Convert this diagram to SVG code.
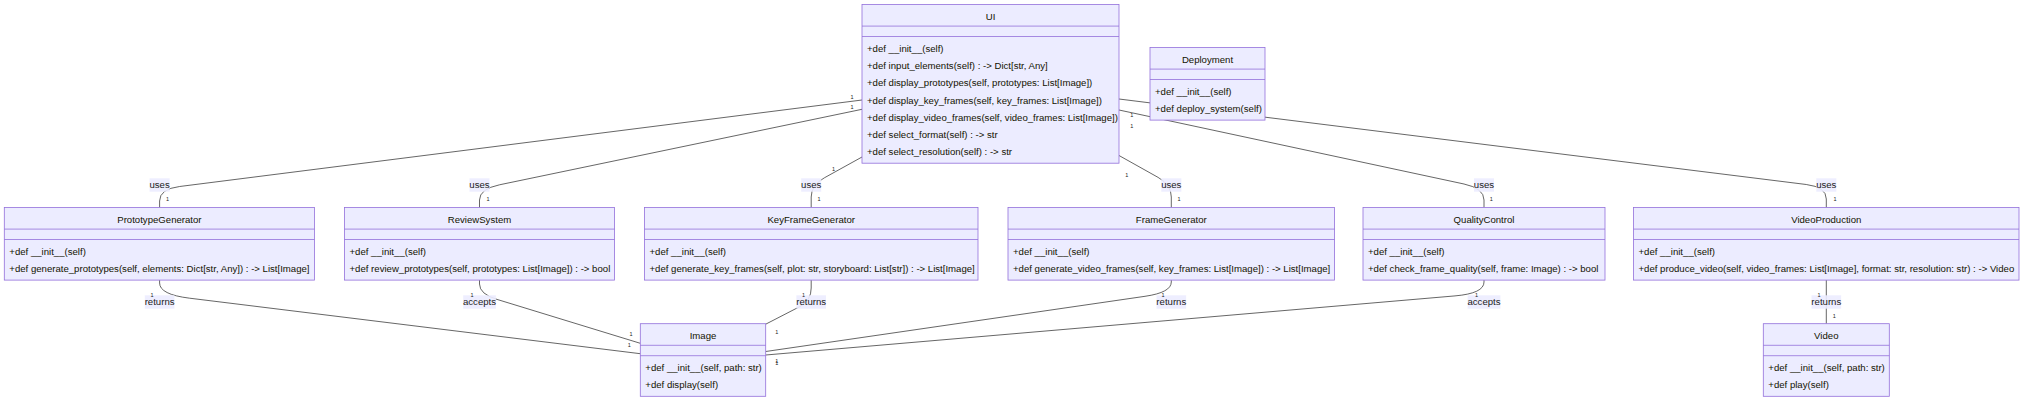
<svg xmlns="http://www.w3.org/2000/svg" width="2032" height="403" viewBox="0 0 2032 403">
<style>
.box{fill:#ececff;stroke:#9370db;stroke-width:0.8}
.div{stroke:#9370db;stroke-width:0.8}
.t{font-family:"Liberation Sans",Arial,sans-serif;font-size:9.6px;fill:#131300}
.ttl{text-anchor:middle}
.edge{fill:none;stroke:#333;stroke-width:0.75}
.lbg{fill:#ececff;opacity:0.9}
.lt{font-family:"Liberation Sans",Arial,sans-serif;font-size:9.6px;fill:#222;text-anchor:middle}
.card{font-family:"Liberation Sans",Arial,sans-serif;font-size:5.5px;fill:#222;text-anchor:middle}
</style>
<rect width="2032" height="403" fill="#ffffff"/>
<g id="connectors">
<path class="edge" d="M 862 100 L 179.6 186.5 Q 159.6 189 159.6 201 L 159.6 207.5"/>
<path class="edge" d="M 862 109.3 L 499.5 184.8 Q 479.5 189 479.5 200 L 479.5 207.5"/>
<path class="edge" d="M 862 157 L 824.4 177.8 Q 811.2 185 811.2 197 L 811.2 207.5"/>
<path class="edge" d="M 1119 155.5 L 1158.1 177.4 Q 1171.3 184.8 1171.3 197 L 1171.3 207.5"/>
<path class="edge" d="M 1119 110 L 1464 184 Q 1484 188.3 1484 200 L 1484 207.5"/>
<path class="edge" d="M 1119 99 L 1806.3 184.5 Q 1826.3 187 1826.3 199 L 1826.3 207.5"/>
<path class="edge" d="M 159.6 280.1 L 159.6 283 Q 159.6 294.5 189.6 298.2 L 640.3 353.7"/>
<path class="edge" d="M 479.5 280.1 L 479.5 284 Q 479.5 294.1 497 299.4 L 640.3 343.3"/>
<path class="edge" d="M 811.2 280.1 L 811.2 288 Q 811.2 300.5 800 306.5 L 765.7 324.2"/>
<path class="edge" d="M 1171.3 280.1 L 1171.3 282 Q 1171.3 292.5 1145 296.3 L 765.7 351.5"/>
<path class="edge" d="M 1484 280.1 L 1484 282 Q 1484 293.4 1455 295.9 L 765.7 355"/>
<path class="edge" d="M 1826.3 280.1 L 1826.3 323.7"/>
<g id="edge-labels">
<rect class="lbg" x="149.6" y="178.3" width="20" height="13.4"/><text class="lt" x="159.6" y="188.4">uses</text>
<rect class="lbg" x="469.5" y="178.3" width="20" height="13.4"/><text class="lt" x="479.5" y="188.4">uses</text>
<rect class="lbg" x="801.2" y="178.3" width="20" height="13.4"/><text class="lt" x="811.2" y="188.4">uses</text>
<rect class="lbg" x="1161.3" y="178.3" width="20" height="13.4"/><text class="lt" x="1171.3" y="188.4">uses</text>
<rect class="lbg" x="1474" y="178.3" width="20" height="13.4"/><text class="lt" x="1484" y="188.4">uses</text>
<rect class="lbg" x="1816.3" y="178.3" width="20" height="13.4"/><text class="lt" x="1826.3" y="188.4">uses</text>
<rect class="lbg" x="144.8" y="295.3" width="29.6" height="13.4"/><text class="lt" x="159.6" y="305.4">returns</text>
<rect class="lbg" x="463.2" y="295.3" width="32.7" height="13.4"/><text class="lt" x="479.5" y="305.4">accepts</text>
<rect class="lbg" x="796.4" y="295.3" width="29.6" height="13.4"/><text class="lt" x="811.2" y="305.4">returns</text>
<rect class="lbg" x="1156.5" y="295.3" width="29.6" height="13.4"/><text class="lt" x="1171.3" y="305.4">returns</text>
<rect class="lbg" x="1467.7" y="295.3" width="32.7" height="13.4"/><text class="lt" x="1484" y="305.4">accepts</text>
<rect class="lbg" x="1811.5" y="295.3" width="29.6" height="13.4"/><text class="lt" x="1826.3" y="305.4">returns</text>
</g>
<g id="cardinalities">
<text class="card" x="852" y="99">1</text>
<text class="card" x="852" y="109">1</text>
<text class="card" x="833.5" y="170.5">1</text>
<text class="card" x="1131.7" y="116.5">1</text>
<text class="card" x="1131.7" y="128.2">1</text>
<text class="card" x="1126.8" y="176.5">1</text>
<text class="card" x="167.5" y="201.2">1</text>
<text class="card" x="488" y="201.2">1</text>
<text class="card" x="819" y="201.2">1</text>
<text class="card" x="1179" y="201.2">1</text>
<text class="card" x="1491.4" y="201.2">1</text>
<text class="card" x="1835" y="201.2">1</text>
<text class="card" x="152" y="297.2">1</text>
<text class="card" x="472" y="297.2">1</text>
<text class="card" x="803.5" y="297.2">1</text>
<text class="card" x="1163" y="297.2">1</text>
<text class="card" x="1476.5" y="297.2">1</text>
<text class="card" x="1819" y="297.2">1</text>
<text class="card" x="631" y="335.5">1</text>
<text class="card" x="629.3" y="346.5">1</text>
<text class="card" x="776.7" y="334">1</text>
<text class="card" x="776.7" y="362.5">1</text>
<text class="card" x="776.7" y="365">1</text>
<text class="card" x="1834.3" y="318">1</text>
</g>
</g>
<g id="node-UI">
<rect class="box" x="862" y="4.5" width="257" height="158.7"/>
<line class="div" x1="862" y1="26.1" x2="1119" y2="26.1"/>
<line class="div" x1="862" y1="36.5" x2="1119" y2="36.5"/>
<text class="t ttl" x="990.5" y="19.9">UI</text>
<text class="t" x="867" y="51.9">+def __init__(self)</text>
<text class="t" x="867" y="69.1">+def input_elements(self) : -&gt; Dict[str, Any]</text>
<text class="t" x="867" y="86.3">+def display_prototypes(self, prototypes: List[Image])</text>
<text class="t" x="867" y="103.5">+def display_key_frames(self, key_frames: List[Image])</text>
<text class="t" x="867" y="120.7">+def display_video_frames(self, video_frames: List[Image])</text>
<text class="t" x="867" y="137.9">+def select_format(self) : -&gt; str</text>
<text class="t" x="867" y="155.1">+def select_resolution(self) : -&gt; str</text>
</g>
<g id="node-Deployment">
<rect class="box" x="1150" y="47.5" width="115" height="72.6"/>
<line class="div" x1="1150" y1="69.1" x2="1265" y2="69.1"/>
<line class="div" x1="1150" y1="79.5" x2="1265" y2="79.5"/>
<text class="t ttl" x="1207.5" y="62.9">Deployment</text>
<text class="t" x="1155" y="94.9">+def __init__(self)</text>
<text class="t" x="1155" y="112.1">+def deploy_system(self)</text>
</g>
<g id="node-PrototypeGenerator">
<rect class="box" x="4.3" y="207.5" width="310.1" height="72.6"/>
<line class="div" x1="4.3" y1="229.1" x2="314.4" y2="229.1"/>
<line class="div" x1="4.3" y1="239.5" x2="314.4" y2="239.5"/>
<text class="t ttl" x="159.4" y="222.9">PrototypeGenerator</text>
<text class="t" x="9.3" y="254.9">+def __init__(self)</text>
<text class="t" x="9.3" y="272.1">+def generate_prototypes(self, elements: Dict[str, Any]) : -&gt; List[Image]</text>
</g>
<g id="node-ReviewSystem">
<rect class="box" x="344.5" y="207.5" width="270" height="72.6"/>
<line class="div" x1="344.5" y1="229.1" x2="614.5" y2="229.1"/>
<line class="div" x1="344.5" y1="239.5" x2="614.5" y2="239.5"/>
<text class="t ttl" x="479.5" y="222.9">ReviewSystem</text>
<text class="t" x="349.5" y="254.9">+def __init__(self)</text>
<text class="t" x="349.5" y="272.1">+def review_prototypes(self, prototypes: List[Image]) : -&gt; bool</text>
</g>
<g id="node-KeyFrameGenerator">
<rect class="box" x="644.5" y="207.5" width="333.5" height="72.6"/>
<line class="div" x1="644.5" y1="229.1" x2="978" y2="229.1"/>
<line class="div" x1="644.5" y1="239.5" x2="978" y2="239.5"/>
<text class="t ttl" x="811.2" y="222.9">KeyFrameGenerator</text>
<text class="t" x="649.5" y="254.9">+def __init__(self)</text>
<text class="t" x="649.5" y="272.1">+def generate_key_frames(self, plot: str, storyboard: List[str]) : -&gt; List[Image]</text>
</g>
<g id="node-FrameGenerator">
<rect class="box" x="1008" y="207.5" width="326.6" height="72.6"/>
<line class="div" x1="1008" y1="229.1" x2="1334.6" y2="229.1"/>
<line class="div" x1="1008" y1="239.5" x2="1334.6" y2="239.5"/>
<text class="t ttl" x="1171.3" y="222.9">FrameGenerator</text>
<text class="t" x="1013" y="254.9">+def __init__(self)</text>
<text class="t" x="1013" y="272.1">+def generate_video_frames(self, key_frames: List[Image]) : -&gt; List[Image]</text>
</g>
<g id="node-QualityControl">
<rect class="box" x="1363" y="207.5" width="242" height="72.6"/>
<line class="div" x1="1363" y1="229.1" x2="1605" y2="229.1"/>
<line class="div" x1="1363" y1="239.5" x2="1605" y2="239.5"/>
<text class="t ttl" x="1484" y="222.9">QualityControl</text>
<text class="t" x="1368" y="254.9">+def __init__(self)</text>
<text class="t" x="1368" y="272.1">+def check_frame_quality(self, frame: Image) : -&gt; bool</text>
</g>
<g id="node-VideoProduction">
<rect class="box" x="1633.5" y="207.5" width="385.5" height="72.6"/>
<line class="div" x1="1633.5" y1="229.1" x2="2019" y2="229.1"/>
<line class="div" x1="1633.5" y1="239.5" x2="2019" y2="239.5"/>
<text class="t ttl" x="1826.3" y="222.9">VideoProduction</text>
<text class="t" x="1638.5" y="254.9">+def __init__(self)</text>
<text class="t" x="1638.5" y="272.1">+def produce_video(self, video_frames: List[Image], format: str, resolution: str) : -&gt; Video</text>
</g>
<g id="node-Image">
<rect class="box" x="640.3" y="323.7" width="125.4" height="72.6"/>
<line class="div" x1="640.3" y1="345.3" x2="765.7" y2="345.3"/>
<line class="div" x1="640.3" y1="355.7" x2="765.7" y2="355.7"/>
<text class="t ttl" x="703" y="339.1">Image</text>
<text class="t" x="645.3" y="371.1">+def __init__(self, path: str)</text>
<text class="t" x="645.3" y="388.3">+def display(self)</text>
</g>
<g id="node-Video">
<rect class="box" x="1763.3" y="323.7" width="126" height="72.6"/>
<line class="div" x1="1763.3" y1="345.3" x2="1889.3" y2="345.3"/>
<line class="div" x1="1763.3" y1="355.7" x2="1889.3" y2="355.7"/>
<text class="t ttl" x="1826.3" y="339.1">Video</text>
<text class="t" x="1768.3" y="371.1">+def __init__(self, path: str)</text>
<text class="t" x="1768.3" y="388.3">+def play(self)</text>
</g>
</svg>
